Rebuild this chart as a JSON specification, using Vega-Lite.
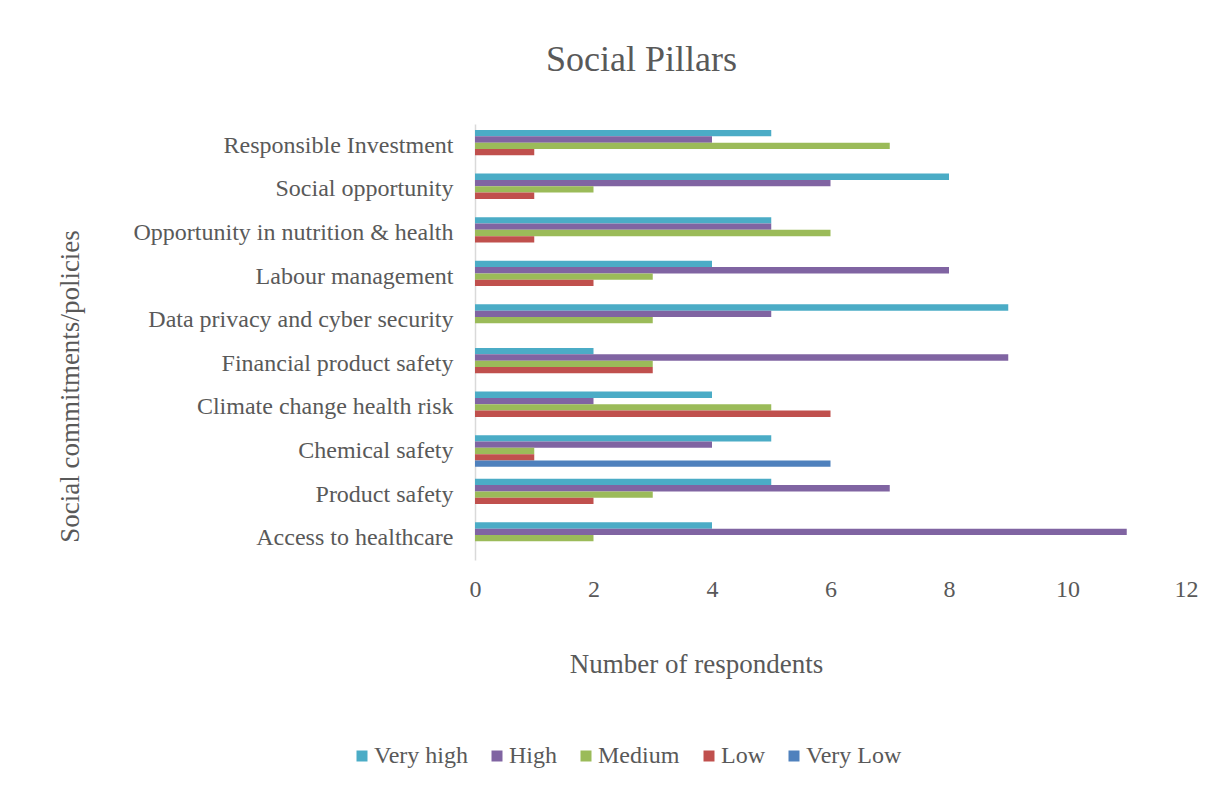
{
  "$schema": "https://vega.github.io/schema/vega-lite/v6.json",
  "autosize": "none",
  "width": 711,
  "height": 436,
  "padding": {"left": 475, "top": 124, "right": 38, "bottom": 225},
  "background": "white",
  "title": {"text": "Social Pillars", "font": "Liberation Serif", "fontSize": 36, "fontWeight": "normal", "color": "#595959", "anchor": "middle", "dx": -189, "offset": 45},
  "data": {"values": [
    {"policy": "Responsible Investment", "level": "Very high", "count": 5},
    {"policy": "Responsible Investment", "level": "High", "count": 4},
    {"policy": "Responsible Investment", "level": "Medium", "count": 7},
    {"policy": "Responsible Investment", "level": "Low", "count": 1},
    {"policy": "Social opportunity", "level": "Very high", "count": 8},
    {"policy": "Social opportunity", "level": "High", "count": 6},
    {"policy": "Social opportunity", "level": "Medium", "count": 2},
    {"policy": "Social opportunity", "level": "Low", "count": 1},
    {"policy": "Opportunity in nutrition & health", "level": "Very high", "count": 5},
    {"policy": "Opportunity in nutrition & health", "level": "High", "count": 5},
    {"policy": "Opportunity in nutrition & health", "level": "Medium", "count": 6},
    {"policy": "Opportunity in nutrition & health", "level": "Low", "count": 1},
    {"policy": "Labour management", "level": "Very high", "count": 4},
    {"policy": "Labour management", "level": "High", "count": 8},
    {"policy": "Labour management", "level": "Medium", "count": 3},
    {"policy": "Labour management", "level": "Low", "count": 2},
    {"policy": "Data privacy and cyber security", "level": "Very high", "count": 9},
    {"policy": "Data privacy and cyber security", "level": "High", "count": 5},
    {"policy": "Data privacy and cyber security", "level": "Medium", "count": 3},
    {"policy": "Financial product safety", "level": "Very high", "count": 2},
    {"policy": "Financial product safety", "level": "High", "count": 9},
    {"policy": "Financial product safety", "level": "Medium", "count": 3},
    {"policy": "Financial product safety", "level": "Low", "count": 3},
    {"policy": "Climate change health risk", "level": "Very high", "count": 4},
    {"policy": "Climate change health risk", "level": "High", "count": 2},
    {"policy": "Climate change health risk", "level": "Medium", "count": 5},
    {"policy": "Climate change health risk", "level": "Low", "count": 6},
    {"policy": "Chemical safety", "level": "Very high", "count": 5},
    {"policy": "Chemical safety", "level": "High", "count": 4},
    {"policy": "Chemical safety", "level": "Medium", "count": 1},
    {"policy": "Chemical safety", "level": "Low", "count": 1},
    {"policy": "Chemical safety", "level": "Very Low", "count": 6},
    {"policy": "Product safety", "level": "Very high", "count": 5},
    {"policy": "Product safety", "level": "High", "count": 7},
    {"policy": "Product safety", "level": "Medium", "count": 3},
    {"policy": "Product safety", "level": "Low", "count": 2},
    {"policy": "Access to healthcare", "level": "Very high", "count": 4},
    {"policy": "Access to healthcare", "level": "High", "count": 11},
    {"policy": "Access to healthcare", "level": "Medium", "count": 2}
  ]},
  "mark": {"type": "bar"},
  "encoding": {
    "y": {
      "field": "policy", "type": "nominal",
      "sort": ["Responsible Investment", "Social opportunity", "Opportunity in nutrition & health", "Labour management", "Data privacy and cyber security", "Financial product safety", "Climate change health risk", "Chemical safety", "Product safety", "Access to healthcare"],
      "scale": {"paddingInner": 0.272, "paddingOuter": 0.136},
      "axis": {
        "title": "Social commitments/policies", "titleFont": "Liberation Serif", "titleFontSize": 27, "titleFontWeight": "normal", "titleColor": "#595959",
        "titleX": -405, "titleY": 262, "titleAngle": -90, "titleBaseline": "middle", "titleAlign": "center",
        "labelFont": "Liberation Serif", "labelFontSize": 24, "labelColor": "#595959", "labelPadding": 22, "labelLimit": 400,
        "ticks": false, "domainColor": "#D9D9D9", "domainWidth": 1.5, "grid": false
      }
    },
    "yOffset": {
      "field": "level", "type": "nominal",
      "scale": {"domain": ["Very high", "High", "Medium", "Low", "Very Low"], "paddingInner": 0, "paddingOuter": 0}
    },
    "x": {
      "field": "count", "type": "quantitative",
      "scale": {"domain": [0, 12]},
      "axis": {
        "title": "Number of respondents", "titleFont": "Liberation Serif", "titleFontSize": 27, "titleFontWeight": "normal", "titleColor": "#595959",
        "titleX": 221, "titleY": 104, "titleBaseline": "middle", "titleAlign": "center",
        "labelFont": "Liberation Serif", "labelFontSize": 24, "labelColor": "#595959", "labelPadding": 17, "labelFlush": false,
        "values": [0, 2, 4, 6, 8, 10, 12], "domain": false, "ticks": false, "grid": false
      }
    },
    "color": {
      "field": "level", "type": "nominal",
      "scale": {"domain": ["Very high", "High", "Medium", "Low", "Very Low"], "range": ["#4BACC6", "#8064A2", "#9BBB59", "#C0504D", "#4F81BD"]},
      "legend": {
        "orient": "none", "legendX": -125, "legendY": 620, "direction": "horizontal", "title": null,
        "symbolType": "square", "symbolSize": 121, "symbolStrokeWidth": 0,
        "labelFont": "Liberation Serif", "labelFontSize": 24, "labelColor": "#595959", "columnPadding": 17, "labelOffset": 0
      }
    }
  },
  "config": {"view": {"stroke": null}}
}
